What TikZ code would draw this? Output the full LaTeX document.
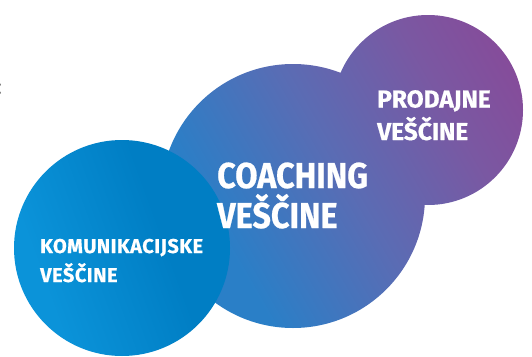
\documentclass[tikz,border=0pt]{standalone}
\usepackage{fontspec}
\setmainfont{Fira Sans}
\newfontfamily\fontbig{Fira Sans}[FakeStretch=0.9, FakeBold=0.6]
\newfontfamily\fontmed{Fira Sans}[FakeStretch=1.0, FakeBold=0.6]
\newfontfamily\fontsml{Fira Sans}[LetterSpace=2.5, FakeBold=0.6]
\definecolor{lblueA}{HTML}{0B93D9}
\definecolor{lblueB}{HTML}{007EC4}
\definecolor{mblue}{HTML}{2A7FC7}
\definecolor{mmid}{HTML}{5A6CB4}
\definecolor{mpurp}{HTML}{7A58A2}
\definecolor{rpurp}{HTML}{8B4696}
\pgfdeclarehorizontalshading{bigshade}{100bp}{color(0bp)=(mblue); color(30bp)=(mblue); color(50bp)=(mmid); color(68bp)=(mpurp); color(85bp)=(rpurp); color(100bp)=(rpurp)}
\pgfdeclarehorizontalshading{leftshade}{100bp}{color(0bp)=(lblueA); color(30bp)=(lblueA); color(60bp)=(lblueB); color(100bp)=(lblueB)}
\tikzset{
  lbl/.style={text=white, inner sep=0pt, anchor=base west},
  bigl/.style={lbl, font=\fontbig\bfseries\fontsize{36}{40}\selectfont},
  medl/.style={lbl, font=\fontmed\bfseries\fontsize{24.5}{30}\selectfont},
  smll/.style={lbl, font=\fontsml\bfseries\fontsize{20}{26}\selectfont},
}
\begin{document}
\begin{tikzpicture}[x=1pt,y=-1pt]
\useasboundingbox (0,0) rectangle (532,356);
\shade[shading=bigshade, shading angle=30] (293,196) circle (132) (428,110) circle (95);
\shade[shading=leftshade, shading angle=20] (122,248) circle (108);
\node[text=black!80, inner sep=0pt, anchor=base east, font=\fontsize{22}{26}\selectfont] (colon) at (2.2,94) {:};
\node[bigl] (c1) at (217,188) {COACHING};
\node[bigl] (c2) at (217,228) {VEŠČINE};
\node[medl] (p1) at (377,107.5) {PRODAJNE};
\node[medl] (p2) at (377,140) {VEŠČINE};
\node[smll] (k1) at (40,253) {KOMUNIKACIJSKE};
\node[smll] (k2) at (40,282) {VEŠČINE};
\end{tikzpicture}
\end{document}
